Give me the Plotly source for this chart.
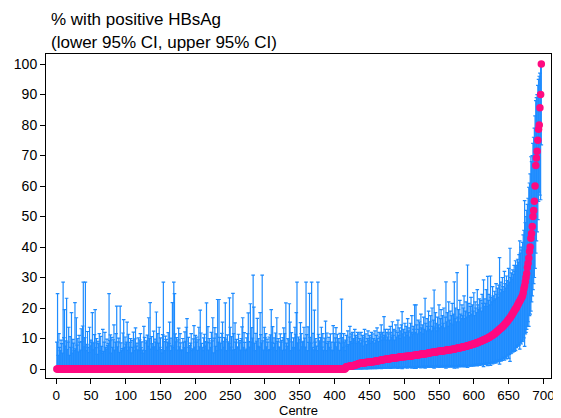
import plotly.graph_objects as go

# ---- data: centres sorted by % with positive HBsAg ----
# upper 95% CI for the centres with 0% positive (centres 1..415)
upper_zero = [
    8.8, 24.7, 4.5, 11.6, 7.1, 6.0, 9.5, 8.3, 5.2, 28.5, 10.3, 19.5, 7.5, 9.2, 23.2, 6.4, 8.8, 13.7, 4.5, 10.6,
    7.1, 18.5, 5.2, 9.7, 8.5, 6.0, 21.8, 6.6, 16.8, 7.8, 10.0, 5.6, 11.0, 8.8, 6.2, 13.2, 9.0, 14.1, 28.5, 7.3,
    10.3, 28.5, 6.0, 8.1, 12.3, 7.1, 5.4, 13.7, 7.6, 9.5, 8.8, 18.5, 6.3, 8.6, 11.3, 19.5, 7.0, 10.0, 4.8, 9.1,
    8.3, 11.6, 6.0, 10.7, 7.4, 5.2, 13.0, 5.8, 8.8, 12.0, 7.1, 6.5, 9.8, 7.7, 8.4, 24.7, 9.3, 11.2, 5.2, 10.4,
    7.1, 9.6, 14.5, 6.2, 8.8, 11.6, 20.6, 7.3, 8.9, 10.1, 5.5, 20.6, 8.6, 6.0, 6.7, 11.8, 16.2, 7.1, 10.5, 8.2,
    8.8, 15.4, 6.1, 11.4, 7.2, 8.7, 10.0, 5.3, 9.4, 7.1, 12.1, 6.0, 9.9, 13.5, 7.5, 8.5, 6.3, 10.2, 6.0, 9.6,
    11.6, 7.0, 8.9, 6.2, 5.2, 14.0, 10.4, 6.0, 8.6, 9.2, 11.1, 7.4, 16.8, 10.0, 21.8, 6.5, 10.6, 8.3, 7.1, 12.4,
    7.3, 9.8, 8.8, 18.7, 6.1, 11.6, 8.5, 13.7, 7.1, 10.2, 6.4, 5.2, 11.3, 28.5, 9.0, 6.0, 10.8, 9.7, 7.2, 8.8,
    11.9, 8.4, 15.4, 6.0, 10.1, 7.6, 21.8, 7.1, 28.5, 24.7, 11.5, 8.9, 10.3, 6.2, 9.6, 13.4, 7.3, 11.6, 8.6, 6.0,
    6.3, 10.0, 8.8, 7.0, 12.2, 9.1, 13.7, 16.5, 5.4, 10.4, 7.1, 7.7, 8.5, 11.6, 6.0, 6.6, 9.9, 14.2, 7.2, 11.0,
    8.8, 10.5, 6.1, 9.6, 13.7, 7.3, 19.3, 11.8, 8.4, 7.1, 6.0, 10.2, 11.4, 7.5, 9.0, 21.7, 8.7, 13.9, 6.2, 10.0,
    8.6, 7.1, 12.0, 9.2, 16.8, 5.3, 10.1, 13.6, 7.4, 11.5, 6.0, 22.8, 8.8, 22.8, 10.4, 8.5, 6.3, 11.7, 15.4, 9.1,
    7.1, 10.3, 21.7, 9.8, 6.0, 11.2, 8.9, 8.4, 23.3, 13.7, 7.2, 10.6, 6.1, 24.8, 11.6, 6.4, 15.1, 8.8, 9.7, 7.3,
    7.0, 11.4, 8.6, 9.3, 6.2, 10.0, 13.8, 16.8, 7.1, 11.9, 8.7, 6.0, 6.5, 10.2, 11.6, 18.4, 9.0, 7.2, 21.4, 8.8,
    13.6, 10.1, 30.8, 20.3, 8.5, 6.0, 11.7, 9.1, 16.6, 7.4, 10.0, 7.1, 18.5, 11.3, 8.6, 30.8, 9.2, 6.2, 13.7, 10.3,
    11.6, 7.3, 9.8, 8.8, 6.0, 10.5, 6.4, 11.2, 19.5, 8.7, 13.9, 7.1, 10.2, 8.4, 11.8, 6.0, 16.8, 9.0, 10.0, 7.2,
    7.1, 11.5, 8.8, 9.4, 6.1, 10.3, 13.5, 11.6, 6.3, 21.7, 8.5, 7.4, 10.0, 9.6, 21.4, 15.4, 6.0, 11.9, 8.9, 7.1,
    10.2, 7.0, 13.7, 11.4, 18.5, 28.5, 8.6, 10.5, 6.2, 9.8, 15.2, 11.6, 7.3, 8.8, 9.1, 13.7, 10.1, 7.2, 28.5, 11.3,
    6.0, 13.8, 8.7, 24.8, 10.4, 8.5, 28.5, 7.1, 11.7, 6.3, 19.3, 8.8, 10.0, 7.5, 6.0, 28.5, 11.4, 9.2, 8.6, 10.3,
    13.7, 7.2, 11.6, 6.1, 8.9, 10.1, 15.7, 6.0, 11.8, 8.4, 9.0, 10.4, 7.1, 11.5, 6.2, 8.8, 6.0, 14.2, 11.6, 8.7,
    10.2, 13.6, 7.3, 11.4, 8.8, 10.0, 6.1, 11.7, 8.5, 22.9, 10.3, 7.1, 11.6, 8.9, 6.0,
]
pct_zero = [0.0] * len(upper_zero)
lower_zero = [0.0] * len(upper_zero)

# centres with some positives (centres 416..697)
pct_pos = [
    0.6, 0.7, 0.7, 0.8, 0.8, 0.9, 0.9, 1.0, 1.0, 1.0, 1.1, 1.1, 1.2, 1.2, 1.3, 1.4, 1.5, 1.6, 1.7, 1.8,
    1.8, 1.9, 1.9, 1.9, 2.0, 2.0, 2.0, 2.0, 2.1, 2.1, 2.1, 2.2, 2.2, 2.2, 2.3, 2.3, 2.3, 2.4, 2.4, 2.4,
    2.5, 2.5, 2.5, 2.6, 2.6, 2.6, 2.7, 2.7, 2.8, 2.8, 2.9, 2.9, 3.0, 3.0, 3.0, 3.1, 3.1, 3.2, 3.2, 3.2,
    3.3, 3.3, 3.4, 3.4, 3.4, 3.5, 3.5, 3.5, 3.6, 3.6, 3.6, 3.7, 3.7, 3.7, 3.8, 3.8, 3.8, 3.9, 3.9, 3.9,
    4.0, 4.0, 4.0, 4.0, 4.1, 4.1, 4.1, 4.1, 4.2, 4.2, 4.2, 4.2, 4.3, 4.3, 4.3, 4.3, 4.4, 4.4, 4.4, 4.5,
    4.5, 4.6, 4.6, 4.6, 4.7, 4.7, 4.7, 4.8, 4.8, 4.8, 4.9, 4.9, 4.9, 5.0, 5.0, 5.0, 5.1, 5.1, 5.2, 5.2,
    5.3, 5.3, 5.4, 5.4, 5.4, 5.5, 5.5, 5.5, 5.6, 5.6, 5.6, 5.7, 5.7, 5.7, 5.8, 5.8, 5.8, 5.9, 5.9, 5.9,
    6.0, 6.0, 6.1, 6.1, 6.1, 6.2, 6.2, 6.2, 6.3, 6.3, 6.3, 6.4, 6.4, 6.4, 6.5, 6.5, 6.6, 6.6, 6.7, 6.7,
    6.8, 6.8, 6.9, 6.9, 7.0, 7.0, 7.1, 7.1, 7.2, 7.2, 7.3, 7.4, 7.4, 7.5, 7.5, 7.6, 7.7, 7.7, 7.8, 7.9,
    7.9, 8.0, 8.1, 8.1, 8.2, 8.3, 8.4, 8.5, 8.5, 8.6, 8.7, 8.8, 8.9, 9.0, 9.1, 9.2, 9.3, 9.4, 9.5, 9.6,
    9.7, 9.8, 9.9, 10.0, 10.1, 10.3, 10.4, 10.5, 10.7, 10.8, 11.0, 11.1, 11.3, 11.4, 11.6, 11.8, 12.0, 12.2, 12.4, 12.6,
    12.8, 13.0, 13.2, 13.4, 13.6, 13.8, 14.0, 14.3, 14.5, 14.8, 15.0, 15.3, 15.6, 15.9, 16.2, 16.5, 16.8, 17.1, 17.5, 17.9,
    18.2, 18.6, 19.0, 19.4, 19.8, 20.0, 20.5, 21.0, 21.4, 21.9, 22.2, 22.7, 23.1, 23.5, 24.0, 25.0, 26.3, 27.3, 28.6, 30.0,
    31.3, 33.3, 34.7, 36.4, 38.5, 40.0, 42.9, 44.4, 46.7, 50.0, 52.0, 55.0, 60.0, 66.7, 69.2, 71.4, 75.0, 78.6, 80.0, 85.7, 90.0, 100.0,
]
lower_pos = [
    0.0, 0.0, 0.0, 0.0, 0.0, 0.0, 0.0, 0.0, 0.0, 0.0, 0.0, 0.0, 0.0, 0.0, 0.0, 0.1, 0.0, 0.1, 0.0, 0.1,
    0.1, 0.0, 0.1, 0.1, 0.0, 0.1, 0.1, 0.2, 0.1, 0.1, 0.0, 0.2, 0.1, 0.1, 0.2, 0.1, 0.2, 0.1, 0.2, 0.1,
    0.2, 0.3, 0.1, 0.2, 0.3, 0.1, 0.2, 0.3, 0.2, 0.4, 0.3, 0.1, 0.4, 0.3, 0.2, 0.3, 0.4, 0.2, 0.5, 0.3,
    0.4, 0.3, 0.5, 0.6, 0.2, 0.4, 0.5, 0.3, 0.6, 0.4, 0.7, 0.5, 0.3, 0.6, 0.5, 0.2, 0.6, 0.4, 0.7, 0.5,
    0.4, 0.1, 0.7, 0.5, 0.8, 0.4, 0.6, 0.5, 0.8, 0.3, 0.6, 0.7, 0.9, 0.5, 0.7, 0.3, 0.8, 0.6, 0.7, 0.2,
    0.8, 0.2, 0.6, 0.9, 0.5, 0.8, 0.6, 0.9, 0.4, 0.8, 0.7, 1.0, 0.5, 0.8, 0.3, 0.7, 1.0, 0.6, 0.8, 0.5,
    0.9, 0.7, 0.6, 1.1, 0.5, 0.9, 0.7, 0.3, 1.0, 0.6, 0.8, 1.2, 0.7, 0.9, 0.5, 1.1, 0.8, 0.6, 1.0, 0.7,
    0.8, 0.6, 1.2, 0.8, 0.3, 1.0, 0.7, 1.3, 0.6, 0.9, 0.7, 1.1, 0.9, 0.6, 1.2, 0.8, 0.3, 1.0, 0.7, 1.1,
    0.4, 1.0, 0.8, 1.3, 0.7, 1.0, 1.2, 0.8, 1.1, 0.9, 0.7, 1.3, 1.0, 0.8, 1.2, 0.5, 1.1, 0.9, 1.3, 1.0,
    0.9, 1.3, 1.1, 1.4, 0.9, 1.5, 1.2, 1.4, 1.6, 1.0, 1.3, 1.7, 1.2, 1.5, 1.4, 1.8, 1.3, 1.6, 0.8, 1.7,
    1.5, 1.9, 1.4, 2.0, 1.1, 1.8, 1.6, 2.1, 1.2, 1.9, 2.3, 1.7, 2.2, 2.5, 1.9, 2.4, 2.0, 2.7, 2.3, 2.9,
    2.5, 1.6, 3.0, 2.6, 3.2, 2.8, 3.4, 3.8, 2.9, 3.6, 4.0, 3.3, 4.2, 4.6, 3.5, 4.8, 2.5, 5.0, 5.2, 5.8,
    5.5, 6.1, 5.8, 6.5, 6.0, 7.0, 7.4, 7.6, 8.0, 7.8, 6.5, 8.6, 8.2, 9.0, 9.1, 9.5, 10.2, 7.4, 11.5, 12.0,
    13.0, 14.0, 15.5, 14.0, 17.5, 18.0, 19.0, 22.0, 24.0, 26.0, 28.0, 30.0, 33.0, 38.0, 42.0, 45.0, 49.0, 55.0, 58.0, 57.0, 55.5, 73.5,
]
upper_pos = [
    9.5, 11.0, 7.5, 12.5, 8.0, 10.5, 14.0, 9.0, 11.5, 8.5, 12.0, 10.0, 9.5, 13.0, 11.0, 8.5, 10.5, 12.0, 9.0, 11.5,
    10.0, 8.5, 12.0, 9.5, 11.0, 7.5, 10.5, 13.0, 9.0, 11.5, 8.0, 10.0, 12.5, 9.5, 11.0, 8.5, 10.5, 12.0, 9.0, 11.5,
    10.0, 8.5, 12.5, 9.5, 11.0, 13.5, 10.0, 9.0, 12.0, 10.5, 11.5, 14.5, 9.5, 12.0, 10.5, 17.2, 11.0, 13.0, 9.5, 12.0,
    10.5, 13.0, 11.5, 9.5, 14.0, 12.0, 10.5, 15.5, 11.0, 13.0, 9.5, 12.5, 14.5, 10.5, 12.0, 16.0, 11.0, 13.5, 10.0, 12.5,
    14.5, 18.8, 11.5, 13.0, 10.5, 15.0, 12.0, 14.0, 11.0, 16.5, 12.5, 13.5, 10.5, 15.0, 12.0, 17.5, 11.5, 14.0, 13.0, 21.0,
    12.0, 21.0, 14.5, 11.5, 16.0, 13.0, 15.5, 12.0, 18.0, 13.5, 14.5, 11.5, 17.0, 13.0, 23.2, 15.0, 12.5, 16.5, 14.0, 19.0,
    13.0, 15.5, 17.5, 12.5, 20.0, 14.0, 16.0, 25.9, 13.5, 18.5, 15.0, 12.5, 17.0, 14.5, 21.0, 13.5, 16.5, 19.5, 14.0, 17.5,
    15.0, 20.0, 13.5, 17.0, 28.6, 15.5, 18.5, 14.0, 22.0, 16.0, 19.0, 15.0, 17.5, 21.5, 14.5, 18.0, 28.6, 16.5, 20.0, 15.5,
    31.6, 17.0, 19.5, 15.5, 22.5, 18.0, 16.5, 21.0, 17.5, 20.0, 24.0, 16.5, 19.0, 22.0, 17.0, 34.1, 18.5, 21.5, 17.5, 20.5,
    23.5, 18.0, 21.0, 19.0, 25.0, 17.5, 22.0, 20.0, 18.5, 26.0, 21.0, 19.5, 23.0, 20.0, 22.5, 19.0, 24.5, 21.5, 29.2, 20.5,
    23.0, 21.5, 26.0, 20.5, 30.4, 22.5, 24.5, 21.0, 30.5, 23.5, 22.0, 27.0, 24.0, 22.5, 25.5, 23.0, 28.0, 24.5, 26.5, 23.5,
    27.5, 36.5, 25.0, 28.5, 26.0, 30.0, 27.0, 25.5, 32.0, 28.0, 26.5, 30.5, 29.0, 27.5, 33.0, 28.5, 39.6, 30.0, 31.5, 29.5,
    32.5, 31.0, 34.0, 32.0, 35.5, 33.5, 34.0, 36.0, 35.0, 37.5, 42.0, 38.0, 40.0, 39.0, 41.5, 44.0, 45.5, 55.2, 48.0, 50.0,
    52.0, 54.0, 56.0, 59.6, 61.0, 64.0, 69.6, 68.0, 70.0, 74.0, 76.0, 79.0, 83.0, 88.0, 89.0, 90.0, 93.0, 95.0, 96.0, 97.0, 99.7, 100.0,
]

x_ticks = list(range(0, 701, 50))
y_ticks = list(range(0, 101, 10))

pct = pct_zero + pct_pos
lower = lower_zero + lower_pos
upper = upper_zero + upper_pos
centre = list(range(1, len(pct) + 1))

err_plus = [max(u - p, 0) for u, p in zip(upper, pct)]
err_minus = [max(p - l, 0) for l, p in zip(lower, pct)]

FONT = "Liberation Sans, Arial, Helvetica, sans-serif"
BLUE = "#1E8CFF"
PINK = "#FF0A80"

fig = go.Figure()
fig.add_trace(go.Scatter(
    x=centre, y=pct, mode="markers",
    marker=dict(size=7.5, color=PINK, line=dict(width=0)),
    error_y=dict(type="data", symmetric=False, array=err_plus, arrayminus=err_minus,
                 color=BLUE, thickness=1.2, width=1.8),
    showlegend=False, hoverinfo="skip",
))

# the page body adds an 8px offset, so the figure is sized to fit the 561x418 window
fig.update_layout(
    width=553, height=410,
    margin=dict(l=35, r=6, t=46, b=40),
    paper_bgcolor="white", plot_bgcolor="white",
    font=dict(family=FONT, size=14, color="black"),
    xaxis=dict(range=[-14.6, 710.9], tickvals=x_ticks, ticks="outside", ticklen=5,
               tickcolor="black", showline=True, linecolor="black", linewidth=1,
               mirror=True, showgrid=False, zeroline=False,
               tickfont=dict(family=FONT, size=13.5, color="black")),
    yaxis=dict(range=[-2.95, 103.3], tickvals=y_ticks, ticks="outside", ticklen=5,
               tickcolor="black", showline=True, linecolor="black", linewidth=1,
               mirror=True, showgrid=False, zeroline=False,
               tickfont=dict(family=FONT, size=14, color="black")),
    annotations=[
        dict(text="% with positive HBsAg", xref="paper", yref="paper",
             x=0.006, y=1.105, xanchor="left", yanchor="middle", showarrow=False,
             font=dict(family=FONT, size=17, color="black")),
        dict(text="(lower 95% CI, upper 95% CI)", xref="paper", yref="paper",
             x=0.006, y=1.037, xanchor="left", yanchor="middle", showarrow=False,
             font=dict(family=FONT, size=17, color="black")),
        dict(text="Centre", xref="paper", yref="paper",
             x=0.5, y=-0.101, xanchor="center", yanchor="middle", showarrow=False,
             borderpad=0, font=dict(family=FONT, size=13, color="black")),
    ],
)

fig.write_html("out.html")
